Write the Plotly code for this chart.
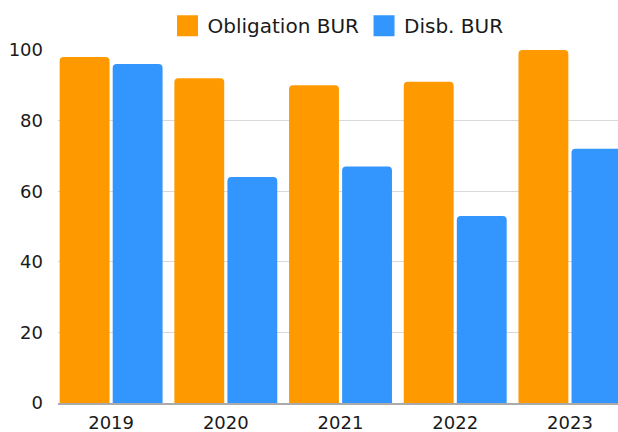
import plotly.graph_objects as go

years = ["2019", "2020", "2021", "2022", "2023"]
obligation_bur = [98, 92, 90, 91, 100]
disb_bur = [96, 64, 67, 53, 72]
y_ticks = [0, 20, 40, 60, 80, 100]

ORANGE = "#FF9900"
BLUE = "#3396FF"
FONT = "DejaVu Sans"

fig = go.Figure()
fig.add_trace(go.Bar(x=years, y=obligation_bur, name="Obligation BUR",
                     marker=dict(color=ORANGE, line=dict(width=0)), showlegend=False))
fig.add_trace(go.Bar(x=years, y=disb_bur, name="Disb. BUR",
                     marker=dict(color=BLUE, line=dict(width=0)), showlegend=False))
# legend entries with larger swatches
for nm, col in [("Obligation BUR", ORANGE), ("Disb. BUR", BLUE)]:
    fig.add_trace(go.Scatter(x=[None], y=[None], mode="markers", name=nm,
                             marker=dict(symbol="square", size=16, color=col,
                                         line=dict(color=col, width=5))))

fig.update_layout(
    width=618, height=432,
    margin=dict(l=57.5, r=0, t=49.5, b=28.5),
    paper_bgcolor="white", plot_bgcolor="white",
    font=dict(family=FONT, size=18, color="#1a1a1a"),
    barmode="group", bargap=0.075, bargroupgap=0.06,
    barcornerradius=4,
    legend=dict(orientation="h", x=0.5, xanchor="center", y=1.069, yanchor="middle",
                font=dict(size=20), itemwidth=30, traceorder="normal"),
    xaxis=dict(type="category", range=[-0.463, 4.419], showgrid=False,
               showline=True, linecolor="#aaaaaa", linewidth=1.5,
               ticks="", tickfont=dict(size=18), ticklabelstandoff=3),
    yaxis=dict(range=[0, 100], tickvals=y_ticks, showgrid=True, gridcolor="#d9d9d9",
               gridwidth=1, zeroline=False, showline=False, ticks="",
               ticklabelstandoff=14, tickfont=dict(size=18)),
)

fig.write_html("out.html", config={"displayModeBar": False},
               post_script="document.body.style.margin='0';document.body.style.padding='0';")
